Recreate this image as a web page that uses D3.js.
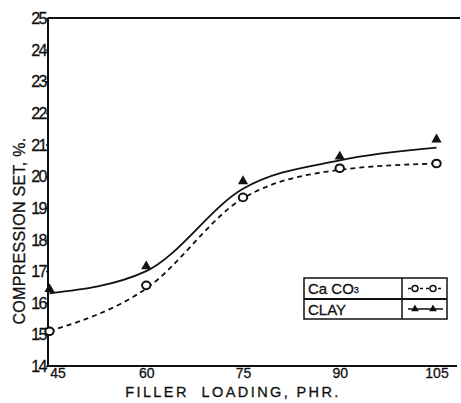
<!DOCTYPE html>
<html>
<head>
<meta charset="utf-8">
<script src="https://cdn.jsdelivr.net/npm/d3@7"></script>
<style>
  body { margin: 0; background: #fff; }
  text { font-family: "Liberation Sans", "DejaVu Sans", sans-serif; fill: #111; }
</style>
</head>
<body>
<div id="main"></div>
<script>
// filler loading (phr)
const loadings = [45, 60, 75, 90, 105];
// measured points
const caco3 = [15.1, 16.55, 19.33, 20.25, 20.4];
const clay = [16.43, 17.15, 19.84, 20.62, 21.16];
// hand-drawn fitted curves, read at each loading
const caco3Fit = [15.1, 16.45, 19.3, 20.2, 20.4];
const clayFit = [16.3, 17.0, 19.6, 20.5, 20.9];
const xTicks = [45, 60, 75, 90, 105];
const yTicks = [14, 15, 16, 17, 18, 19, 20, 21, 22, 23, 24, 25];

const w = 461, h = 403;
const padL = 48, padT = 18, padB = 366, padR = 460;

const svg = d3.select("#main").append("svg")
  .attr("width", w).attr("height", h);

const xScale = d3.scaleLinear().domain([45, 105]).range([49.5, 436.5]);
const yScale = d3.scaleLinear().domain([14, 25]).range([padB, padT]);

// frame: left, top, bottom
svg.append("line").attr("x1", padL).attr("x2", padL).attr("y1", padT).attr("y2", padB)
  .attr("stroke", "#111").attr("stroke-width", 2);
svg.append("line").attr("x1", padL).attr("x2", padR).attr("y1", padT).attr("y2", padT)
  .attr("stroke", "#111").attr("stroke-width", 1.8);
svg.append("line").attr("x1", padL).attr("x2", 457).attr("y1", padB).attr("y2", padB)
  .attr("stroke", "#111").attr("stroke-width", 1.8);

// y axis
const yAxis = d3.axisLeft(yScale).tickValues(yTicks).tickSize(2).tickPadding(0);
const gy = svg.append("g").attr("transform", "translate(" + padL + ",0)").call(yAxis);
gy.select(".domain").remove();
gy.selectAll("line").attr("stroke", "#111").attr("stroke-width", 1.5);
gy.selectAll("text").style("font-size", "16px").attr("dy", "0.35em")
  .style("letter-spacing", "-1.5px").attr("stroke", "#111").attr("stroke-width", 0.3);

// x axis
const xAxis = d3.axisBottom(xScale).tickValues(xTicks).tickSize(0).tickPadding(2);
const gx = svg.append("g").attr("transform", "translate(0," + padB + ")").call(xAxis);
gx.select(".domain").remove();
gx.selectAll("text").style("font-size", "14px")
  .attr("stroke", "#111").attr("stroke-width", 0.3)
  .attr("dx", (d) => d == 45 ? 8 : 0);

// curves
const line = d3.line()
  .x((d, i) => xScale(loadings[i]))
  .y((d) => yScale(d))
  .curve(d3.curveMonotoneX);

svg.append("path").datum(clayFit)
  .attr("d", line).attr("fill", "none")
  .attr("stroke", "#111").attr("stroke-width", 1.8);

svg.append("path").datum(caco3Fit)
  .attr("d", line).attr("fill", "none")
  .attr("stroke", "#111").attr("stroke-width", 1.8)
  .attr("stroke-dasharray", "5,4");

// markers
svg.selectAll(".circ").data(caco3).enter().append("ellipse")
  .attr("class", "circ")
  .attr("cx", (d, i) => xScale(loadings[i]))
  .attr("cy", (d) => yScale(d))
  .attr("rx", 4.2).attr("ry", 3.8)
  .attr("fill", "#fff").attr("stroke", "#111").attr("stroke-width", 2);

const tri = d3.symbol().type(d3.symbolTriangle).size(45);
svg.selectAll(".tri").data(clay).enter().append("path")
  .attr("class", "tri")
  .attr("transform", (d, i) => "translate(" + xScale(loadings[i]) + "," + yScale(d) + ")")
  .attr("d", tri).attr("fill", "#111");

// legend
const lg = svg.append("g");
const lx0 = 304, lx1 = 402, lx2 = 447, ly0 = 278, ly1 = 299, ly2 = 319;
lg.append("rect").attr("x", lx0).attr("y", ly0).attr("width", lx2 - lx0).attr("height", ly2 - ly0)
  .attr("fill", "#fff").attr("stroke", "#111").attr("stroke-width", 1.5);
lg.append("line").attr("x1", lx0).attr("x2", lx2).attr("y1", ly1).attr("y2", ly1)
  .attr("stroke", "#111").attr("stroke-width", 2);
lg.append("line").attr("x1", lx1).attr("x2", lx1).attr("y1", ly0).attr("y2", ly2)
  .attr("stroke", "#111").attr("stroke-width", 1.5);

const t1 = lg.append("text").attr("x", lx0 + 4).attr("y", ly0 + 16).style("font-size", "15px")
  .attr("stroke", "#111").attr("stroke-width", 0.3);
t1.append("tspan").text("Ca CO");
t1.append("tspan").text("3").style("font-size", "9px").attr("dy", -1);
lg.append("text").attr("x", lx0 + 4).attr("y", ly1 + 16).style("font-size", "15px")
  .attr("stroke", "#111").attr("stroke-width", 0.3).text("CLAY");

// legend samples
const s1 = (ly0 + ly1) / 2, s2 = (ly1 + ly2) / 2;
lg.append("line").attr("x1", lx1 + 6).attr("x2", lx2 - 4).attr("y1", s1).attr("y2", s1)
  .attr("stroke", "#111").attr("stroke-width", 1.5).attr("stroke-dasharray", "3,3");
[lx1 + 13, lx1 + 31].forEach((x) => {
  lg.append("circle").attr("cx", x).attr("cy", s1).attr("r", 3)
    .attr("fill", "#fff").attr("stroke", "#111").attr("stroke-width", 1.5);
});
lg.append("line").attr("x1", lx1 + 6).attr("x2", lx2 - 4).attr("y1", s2).attr("y2", s2)
  .attr("stroke", "#111").attr("stroke-width", 1.5);
[lx1 + 13, lx1 + 31].forEach((x) => {
  lg.append("path").attr("transform", "translate(" + x + "," + s2 + ")")
    .attr("d", d3.symbol().type(d3.symbolTriangle).size(25)).attr("fill", "#111");
});

// axis titles
svg.append("text")
  .attr("transform", "translate(25,231) rotate(-90)")
  .style("text-anchor", "middle").style("font-size", "16px")
  .style("letter-spacing", "0.3px")
  .attr("stroke", "#111").attr("stroke-width", 0.3)
  .text("COMPRESSION SET, %.");

svg.append("text")
  .attr("x", 233).attr("y", 397)
  .style("text-anchor", "middle").style("font-size", "14.5px")
  .style("letter-spacing", "2.4px")
  .attr("stroke", "#111").attr("stroke-width", 0.3)
  .attr("xml:space", "preserve")
  .text("FILLER  LOADING, PHR.");
</script>
</body>
</html>
